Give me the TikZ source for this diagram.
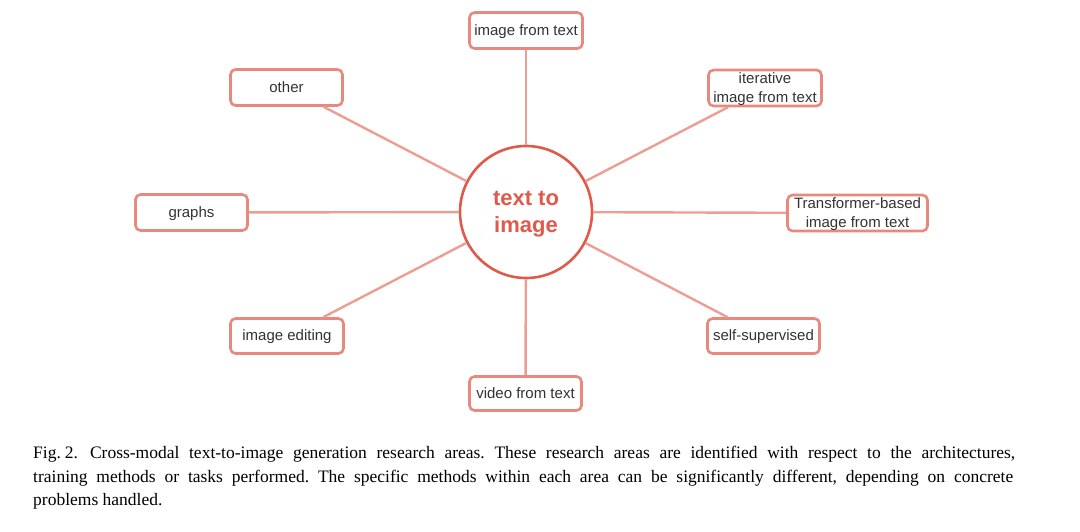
\documentclass[tikz,border=0pt]{standalone}
\usepackage{fontspec}
\setmainfont{Liberation Serif}
\newfontfamily\boxfont{Liberation Sans}
\definecolor{boxborder}{HTML}{E8897D}
\definecolor{circborder}{HTML}{E05A4B}
\definecolor{linkcol}{HTML}{EE9D93}
\definecolor{boxtext}{HTML}{333333}
\tikzset{
  area/.style={draw=boxborder, line width=2.6pt, rounded corners=5pt, fill=white,
    text=boxtext, font=\boxfont\fontsize{15}{18.5}\selectfont, align=center,
    inner sep=0pt, minimum height=36pt, text depth=1pt},
  hub/.style={circle, draw=circborder, line width=2.6pt, fill=white, minimum size=132pt,
    text=circborder, font=\boxfont\bfseries\fontsize{22}{27.5}\selectfont, align=center,
    text depth=0pt},
  link/.style={draw=linkcol, line width=2.4pt},
  caption/.style={anchor=base west, inner sep=0pt, font=\frenchspacing\fontsize{17.5}{24}\selectfont, text=black}
}
\begin{document}
\begin{tikzpicture}[x=1pt,y=-1pt]
\useasboundingbox (0,0) rectangle (1080,531);
\node[hub] (c) at (526,212) {text to\\image};
\node[area, minimum width=113pt] (top) at (526,30.5) {image from text};
\node[area, minimum width=112pt] (oth) at (286.5,87.5) {other};
\node[area, minimum width=113pt] (itr) at (765,88) {iterative\\image from text};
\node[area, minimum width=112pt] (gra) at (191.5,212.5) {graphs};
\node[area, minimum width=140pt] (trf) at (857.5,213) {Transformer-based\\image from text};
\node[area, minimum width=113pt, minimum height=35pt] (edi) at (287,336) {image editing};
\node[area, minimum width=112pt, minimum height=35pt] (sel) at (763.5,336) {self-supervised};
\node[area, minimum width=112pt, minimum height=34pt] (vid) at (525.5,393.5) {video from text};
\foreach \n in {top,oth,itr,gra,trf,edi,sel,vid} { \path[link] (c) -- (\n); }
\node[caption] (cap1) at (33,458) {\makebox[982pt][s]{Fig.\kern4pt2.\kern12pt Cross-modal text-to-image generation research areas. These research areas are identified with respect to the architectures,}};
\node[caption] (cap2) at (33,482) {\makebox[980pt][s]{training methods or tasks performed. The specific methods within each area can be significantly different, depending on concrete}};
\node[caption] (cap3) at (33,505) {problems handled.};
\end{tikzpicture}
\end{document}
